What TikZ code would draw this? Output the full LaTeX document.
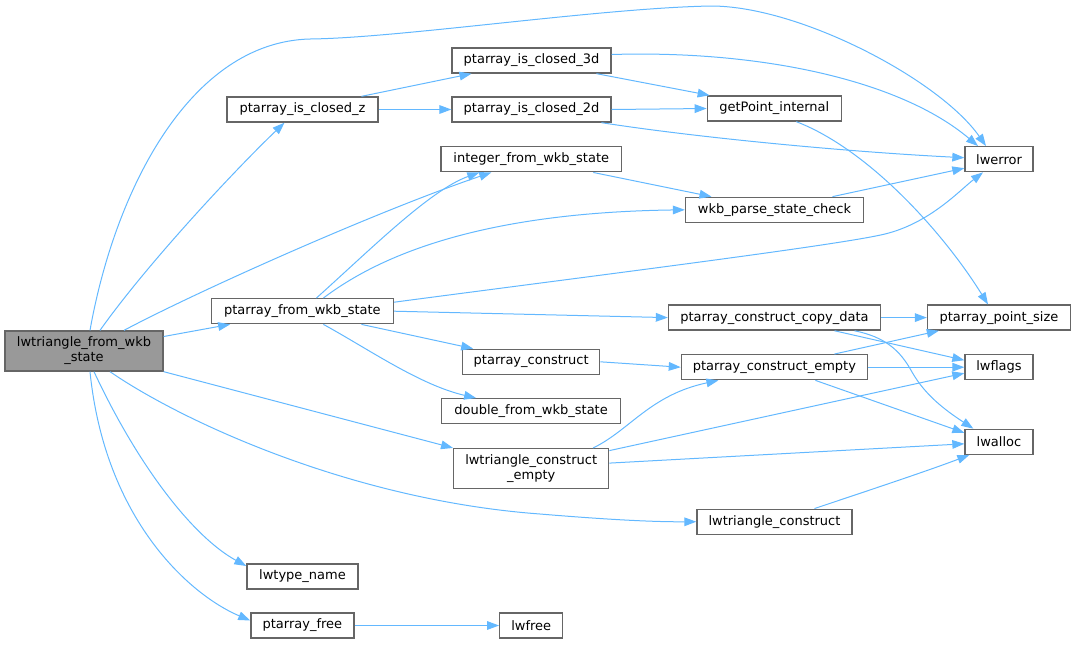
\documentclass[tikz,border=0pt]{standalone}
\usepackage{fontspec}
\setmainfont{DejaVu Sans}
\usetikzlibrary{arrows.meta,calc}
\definecolor{edgec}{HTML}{63B8FF}
\definecolor{boxc}{HTML}{666666}
\definecolor{mainc}{HTML}{999999}
\tikzset{
  box/.style={draw=boxc, line width=1pt, fill=white, inner sep=0pt, align=center,
    minimum height=18.75pt, font=\fontsize{9.75}{11.25}\selectfont},
  mainbox/.style={box, fill=mainc},
  edge/.style={draw=edgec, line width=0.75pt, -{Triangle[length=9pt,width=6.5pt]}},
}
\begin{document}
\begin{tikzpicture}[x=0.75pt,y=-0.75pt]
\useasboundingbox (0,0) rectangle (1076,644);
% nodes
\node[mainbox, minimum width=118.5pt, minimum height=30pt] (A) at (84,351) {lwtriangle\_from\_wkb\\\_state};
\node[box, minimum width=113.25pt] (Z) at (302.5,109.5) {ptarray\_is\_closed\_z};
\node[box, minimum width=119.25pt] (C3) at (531.5,60.5) {ptarray\_is\_closed\_3d};
\node[box, minimum width=119.25pt] (C2) at (531.5,109.5) {ptarray\_is\_closed\_2d};
\node[box, minimum width=100.5pt] (G) at (774.3,108.5) {getPoint\_internal};
\node[box, minimum width=51pt] (E) at (999,159.2) {lwerror};
\node[box, minimum width=135.4pt] (I) at (531.3,159.3) {integer\_from\_wkb\_state};
\node[box, minimum width=133.5pt] (W) at (774.5,209.8) {wkb\_parse\_state\_check};
\node[box, minimum width=136.5pt] (P) at (302.4,311.2) {ptarray\_from\_wkb\_state};
\node[box, minimum width=159pt] (CD) at (774.5,317.6) {ptarray\_construct\_copy\_data};
\node[box, minimum width=107.25pt] (PS) at (999,317.6) {ptarray\_point\_size};
\node[box, minimum width=102.75pt] (PC) at (531.2,361.8) {ptarray\_construct};
\node[box, minimum width=139.5pt] (CE) at (774.4,367.2) {ptarray\_construct\_empty};
\node[box, minimum width=51pt] (F) at (999,367.2) {lwflags};
\node[box, minimum width=134.25pt] (D) at (531.1,411.2) {double\_from\_wkb\_state};
\node[box, minimum width=51pt] (L) at (999,441.8) {lwalloc};
\node[box, minimum width=116.25pt, minimum height=30pt] (TE) at (531.2,468.6) {lwtriangle\_construct\\\_empty};
\node[box, minimum width=116.25pt] (T) at (774.5,521.7) {lwtriangle\_construct};
\node[box, minimum width=83.25pt] (N) at (302.5,576.5) {lwtype\_name};
\node[box, minimum width=77.25pt] (PF) at (302.4,625.5) {ptarray\_free};
\node[box, minimum width=47.25pt] (FR) at (531.2,625.5) {lwfree};
% edges from A
\draw[edge] ($(A.north)+(6,0)$) .. controls (115,190) and (190,42) .. (310,39)
  .. controls (400,38) and (600,8) .. (711,6)
  .. controls (800,6) and (940,80) .. ($(E.north)+(-13,0)$);
\draw[edge] ($(A.north)+(16,0)$) .. controls (150,260) and (240,165) .. ($(Z.south)+(-18,0)$);
\draw[edge] ($(A.north)+(40,0)$) .. controls (200,290) and (380,210) .. ($(I.south)+(-40,0)$);
\draw[edge] (A) -- (P);
\draw[edge] (A.south east) -- (TE.north west);
\draw[edge] ($(A.south)+(26,0)$) .. controls (180,420) and (350,500) .. (540,514)
  .. controls (600,519) and (650,522) .. (T.west);
\draw[edge] ($(A.south)+(10,0)$) .. controls (140,470) and (195,538) .. ($(N.west)+(0,-10.5)$);
\draw[edge] ($(A.south)+(6,0)$) .. controls (105,520) and (190,595) .. ($(PF.west)+(0,-5)$);
% ptarray_is_closed_z
\draw[edge] ($(Z.north)+(59,0)$) -- ($(C3.south)+(-60,0)$);
\draw[edge] (Z) -- (C2);
% closed_3d / 2d
\draw[edge] ($(C3.south)+(65,0)$) -- ($(G.north west)+(3,0)$);
\draw[edge] ($(C3.east)+(0,-6)$) .. controls (760,50) and (900,80) .. ($(E.north)+(-21,0)$);
\draw[edge] (C2.east) -- (G.west);
\draw[edge] ($(C2.south)+(70,0)$) .. controls (700,138) and (850,152) .. ($(E.west)+(0,-1.5)$);
% getPoint_internal
\draw[edge] ($(G.south)+(22,0)$) .. controls (870,150) and (945,235) .. ($(PS.north)+(-11,0)$);
% integer / wkb_parse
\draw[edge] ($(I.south)+(62,0)$) -- ($(W.north)+(-63,0)$);
\draw[edge] ($(W.north)+(58,0)$) -- ($(E.west)+(0,9)$);
% ptarray_from_wkb_state
\draw[edge] ($(P.north)+(14,0)$) .. controls (370,250) and (430,190) .. ($(I.south)+(-52,0)$);
\draw[edge] ($(P.north)+(21,0)$) .. controls (400,240) and (520,212) .. (W.west);
\draw[edge] ($(P.east)+(0,-9)$) .. controls (600,275) and (840,245) .. (885,234)
  .. controls (930,223) and (960,190) .. ($(E.south)+(-16,0)$);
\draw[edge] (P.east) -- (CD.west);
\draw[edge] ($(P.south)+(59,0)$) -- ($(PC.north)+(-58,0)$);
\draw[edge] ($(P.south)+(21,0)$) .. controls (370,350) and (420,385) .. ($(D.north)+(-55,0)$);
% copy_data
\draw[edge] (CD) -- (PS);
\draw[edge] ($(CD.south)+(60,0)$) -- ($(F.west)+(0,-7)$);
\draw[edge] ($(CD.south)+(80,0)$) .. controls (885,337) and (900,350) .. (912,372)
  .. controls (925,395) and (945,410) .. ($(L.north west)+(9,0)$);
% construct
\draw[edge] (PC.east) -- (CE.west);
% construct_empty
\draw[edge] ($(CE.north)+(60,0)$) -- ($(PS.south west)+(12,0)$);
\draw[edge] (CE) -- (F);
\draw[edge] ($(CE.south)+(41,0)$) -- ($(L.west)+(0,-9)$);
% lwtriangle_construct_empty
\draw[edge] ($(TE.north)+(62,0)$) .. controls (630,430) and (650,395) .. ($(CE.south)+(-56,0)$);
\draw[edge] ($(TE.east)+(0,-18)$) -- ($(F.west)+(0,6)$);
\draw[edge] ($(TE.east)+(0,-5.5)$) -- ($(L.west)+(0,2)$);
% lwtriangle_construct
\draw[edge] ($(T.north)+(40,0)$) .. controls (870,490) and (930,470) .. ($(L.south west)+(5,0)$);
% ptarray_free
\draw[edge] (PF) -- (FR);
\end{tikzpicture}
\end{document}
